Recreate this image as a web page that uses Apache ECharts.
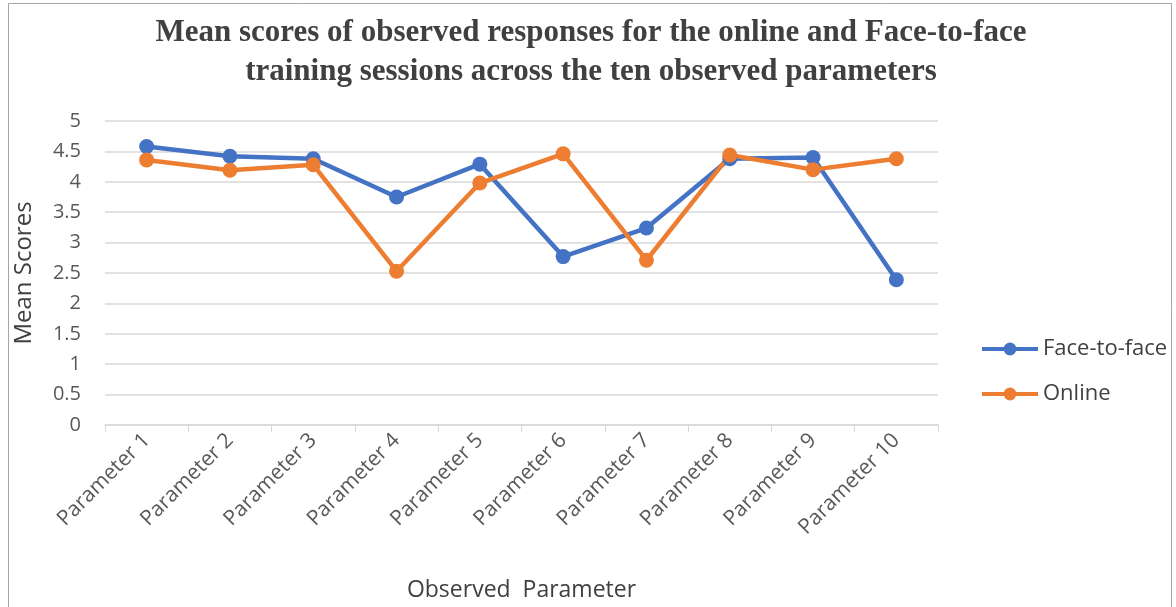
<!DOCTYPE html>
<html><head><meta charset="utf-8">
<script src="https://cdn.jsdelivr.net/npm/echarts@6/dist/echarts.min.js"></script>
<style>html,body{margin:0;padding:0;background:#fff}#c{width:1176px;height:607px}</style>
</head><body><div id="c"></div>
<script>
const categories = ['Parameter 1','Parameter 2','Parameter 3','Parameter 4','Parameter 5','Parameter 6','Parameter 7','Parameter 8','Parameter 9','Parameter 10'];
const faceToFace = [4.58, 4.42, 4.38, 3.75, 4.29, 2.77, 3.24, 4.38, 4.40, 2.39];
const online = [4.36, 4.19, 4.28, 2.53, 3.98, 4.46, 2.71, 4.44, 4.20, 4.38];
const yTicks = [0, 0.5, 1, 1.5, 2, 2.5, 3, 3.5, 4, 4.5, 5];

const chart = echarts.init(document.getElementById('c'));
chart.setOption({
  animation: false,
  backgroundColor: '#fff',
  title: {
    text: 'Mean scores of observed responses for the online and Face-to-face\ntraining sessions across the ten observed parameters',
    left: 586, top: 8, textAlign: 'center',
    textStyle: {fontFamily: 'Liberation Serif', fontWeight: 'bold', fontSize: 31, color: '#404040', lineHeight: 39}
  },
  graphic: [{type: 'rect', shape: {x: 8.5, y: 3.5, width: 1163, height: 610}, style: {fill: 'none', stroke: '#a6a6a6', lineWidth: 1}, silent: true}],
  legend: {
    orient: 'vertical', left: 975, top: 333, itemGap: 23, itemWidth: 56, itemHeight: 16,
    lineStyle: {width: 4},
    textStyle: {fontFamily: 'Open Sans', fontSize: 22, color: '#404040'},
    data: ['Face-to-face', 'Online']
  },
  grid: {left: 105, right: 238, top: 121, bottom: 178, containLabel: false},
  xAxis: {
    type: 'category', data: categories, boundaryGap: true,
    name: 'Observed  Parameter', nameLocation: 'middle', nameGap: 154,
    nameTextStyle: {fontFamily: 'Open Sans', fontSize: 23, color: '#404040'},
    axisLine: {lineStyle: {color: '#d9d9d9', width: 1.5}},
    axisTick: {show: true, alignWithLabel: false, length: 7, lineStyle: {color: '#d9d9d9'}},
    axisLabel: {rotate: 45, fontFamily: 'Open Sans', fontSize: 21, color: '#595959', margin: 12}
  },
  yAxis: {
    type: 'value', min: 0, max: 5, interval: 0.5,
    name: 'Mean Scores', nameLocation: 'middle', nameGap: 69,
    nameTextStyle: {fontFamily: 'Open Sans', fontSize: 24, color: '#404040'},
    axisLine: {show: false}, axisTick: {show: false},
    axisLabel: {fontFamily: 'Open Sans', fontSize: 20, color: '#595959', margin: 24,
      formatter: v => yTicks.includes(v) ? String(v) : ''},
    splitLine: {lineStyle: {color: '#d9d9d9', width: 1.5}}
  },
  series: [
    {name: 'Face-to-face', type: 'line', data: faceToFace, symbol: 'circle', symbolSize: 15,
     lineStyle: {color: '#4472C4', width: 4.5}, itemStyle: {color: '#4472C4'}},
    {name: 'Online', type: 'line', data: online, symbol: 'circle', symbolSize: 15,
     lineStyle: {color: '#ED7D31', width: 4.5}, itemStyle: {color: '#ED7D31'}}
  ]
});
</script></body></html>
